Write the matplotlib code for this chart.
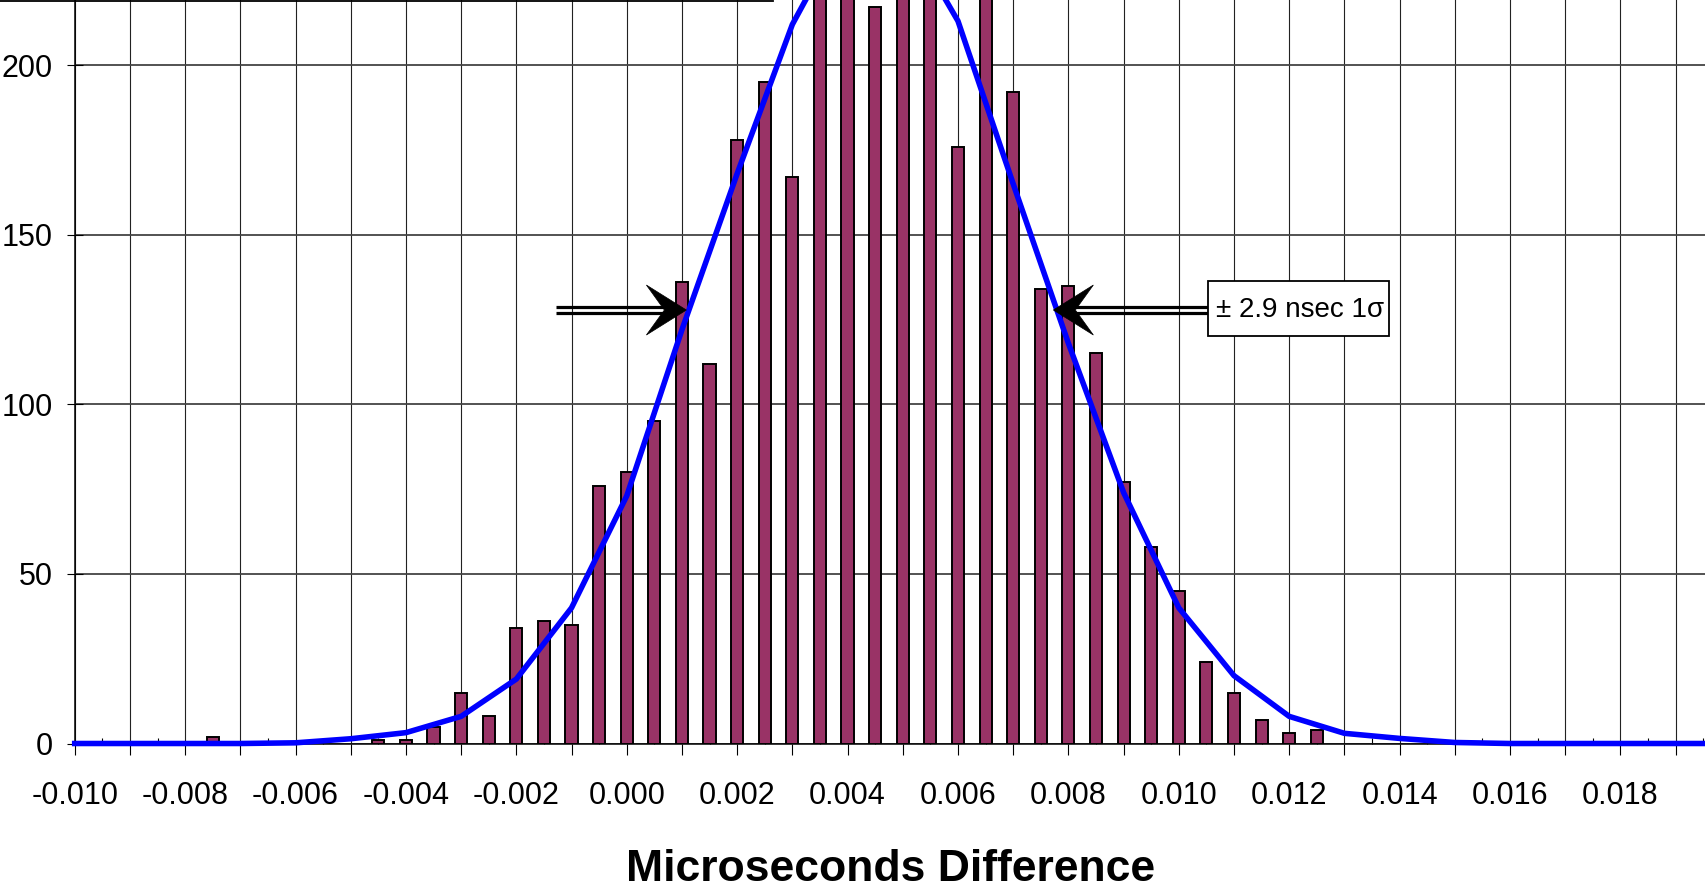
import numpy as np
import matplotlib
matplotlib.use('Agg')
from matplotlib import pyplot as plt
from matplotlib.patches import Polygon, Rectangle
from matplotlib.lines import Line2D

plt.rcParams['font.family'] = ['Liberation Sans Narrow', 'Liberation Sans', 'DejaVu Sans']

# histogram of measured differences (bin centre in microseconds, count)
bin_centers = [-0.0075, -0.0045, -0.0040, -0.0035, -0.0030, -0.0025, -0.0020, -0.0015,
               -0.0010, -0.0005, 0.0000, 0.0005, 0.0010, 0.0015, 0.0020, 0.0025,
               0.0030, 0.0035, 0.0040, 0.0045, 0.0050, 0.0055, 0.0060, 0.0065,
               0.0070, 0.0075, 0.0080, 0.0085, 0.0090, 0.0095, 0.0100, 0.0105,
               0.0110, 0.0115, 0.0120, 0.0125]
counts = [2, 1, 1, 5, 15, 8, 34, 36,
          35, 76, 80, 95, 136, 112, 178, 195,
          167, 232, 246, 217, 251, 238, 176, 229,
          192, 134, 135, 115, 77, 58, 45, 24,
          15, 7, 3, 4]

# fitted normal curve, one point per 0.001
fit_x = [-0.010, -0.009, -0.008, -0.007, -0.006, -0.005, -0.004, -0.003,
         -0.002, -0.001, 0.000, 0.001, 0.002, 0.003, 0.004, 0.005,
         0.006, 0.007, 0.008, 0.009, 0.010, 0.011, 0.012, 0.013,
         0.014, 0.015, 0.016, 0.017, 0.018, 0.019, 0.020]
fit_y = [0, 0, 0, 0, 0.2, 1.4, 3.2, 8,
         19, 40, 73, 122, 168, 212, 242, 241,
         213, 165, 118, 74, 40, 20, 8, 3,
         1.5, 0.3, 0, 0, 0, 0, 0]

x_tick_values = [-0.010, -0.008, -0.006, -0.004, -0.002, 0.000, 0.002, 0.004,
                 0.006, 0.008, 0.010, 0.012, 0.014, 0.016, 0.018]
x_tick_labels = ['-0.010', '-0.008', '-0.006', '-0.004', '-0.002', '0.000', '0.002', '0.004',
                 '0.006', '0.008', '0.010', '0.012', '0.014', '0.016', '0.018']
y_tick_values = [0, 50, 100, 150, 200]

sigma_text = '± 2.9 nsec 1σ'
xlabel_text = 'Microseconds Difference'

W, H = 1706, 888
fig = plt.figure(figsize=(W / 100, H / 100), dpi=100)
ax = fig.add_axes([74.7 / W, 144.5 / H, 1 - 74.7 / W, 1 - 144.5 / H])
ax.set_xlim(-0.010, 0.01955)
ax.set_ylim(0, 219.2)

ax.bar(bin_centers, counts, width=0.00022, color='#993366', edgecolor='black',
       linewidth=1.4, zorder=3)
ax.plot(fit_x, fit_y, color='#0000ff', lw=4, zorder=4, clip_on=False,
        solid_joinstyle='round')

# ticks every 0.001, labels every 0.002, small inward ticks half way
grid_x = np.arange(-10, 20) * 0.001
labels = []
for g in grid_x:
    lab = ''
    for v, t in zip(x_tick_values, x_tick_labels):
        if abs(v - g) < 1e-9:
            lab = t
    labels.append(lab)
ax.set_xticks(grid_x, labels=labels)
ax.set_xticks(grid_x + 0.0005, minor=True)
ax.set_yticks(y_tick_values)

ax.tick_params(axis='x', which='major', direction='out', length=8, width=0.8,
               pad=19, labelsize=22)
ax.tick_params(axis='x', which='minor', direction='in', length=4.3, width=0.8)
ax.tick_params(axis='y', direction='inout', length=11.5, width=0.8, pad=10,
               labelsize=22)

ax.set_axisbelow(True)
ax.xaxis.grid(True, which='major', color='#222222', lw=0.8)
ax.yaxis.grid(True, color='#444444', lw=1.3)
for s in ['top', 'right']:
    ax.spines[s].set_visible(False)
ax.spines['left'].set_linewidth(1.1)
ax.spines['bottom'].set_linewidth(1.1)


def px(x, y):
    return ax.transData.transform((x, y))


def dat(p):
    return ax.transData.inverted().transform(p)


def double_arrow(tail_x, tip_x, y):
    tip = px(tip_x, y)
    tail = px(tail_x, y)
    d = 1 if tip_x > tail_x else -1
    notch = tip[0] - d * 22
    for off in (-3.4, 3.4):
        p0 = dat((tail[0], tip[1] + off))
        p1 = dat((notch + d * 2, tip[1] + off))
        ax.add_line(Line2D([p0[0], p1[0]], [p0[1], p1[1]], color='black', lw=2.3,
                           zorder=6, solid_capstyle='butt'))
    head = [tip, (tip[0] - d * 40, tip[1] + 25), (notch, tip[1]),
            (tip[0] - d * 40, tip[1] - 25)]
    ax.add_patch(Polygon([dat(p) for p in head], closed=True, facecolor='black',
                         edgecolor='black', lw=0.5, zorder=6))


arrow_y = 127.8
double_arrow(-0.00128, 0.00108, arrow_y)
double_arrow(0.010536, 0.007728, arrow_y)

# label box for the sigma
box_c = px(0.012175, 128.3)
lo = dat((box_c[0] - 90.5, box_c[1] - 27.5))
hi = dat((box_c[0] + 90.5, box_c[1] + 27.5))
ax.add_patch(Rectangle(lo, hi[0] - lo[0], hi[1] - lo[1], facecolor='white',
                       edgecolor='black', lw=1.3, zorder=6))
ax.text(0.0122, 125.6, sigma_text, family=['Liberation Sans', 'DejaVu Sans'],
        fontsize=20, ha='center', va='baseline', zorder=7)

# edge of the box above the chart (cut off in the original)
fig.add_artist(Line2D([0, 772.7 / W], [1 - 0.8 / H, 1 - 0.8 / H], color='black',
                      lw=1.3, transform=fig.transFigure))

fig.text(890.35 / W, 7 / H, xlabel_text, ha='center', va='baseline', fontsize=32,
         fontweight='bold')

fig.savefig('out.png', dpi=100)
